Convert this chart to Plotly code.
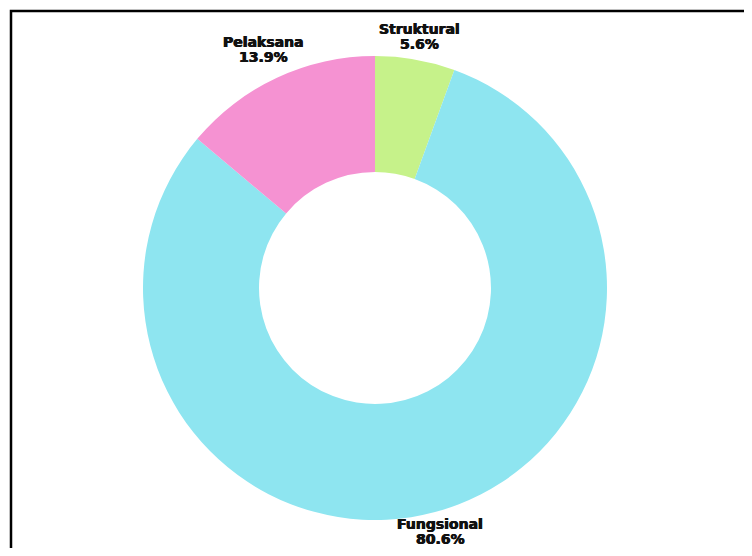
import math
import plotly.graph_objects as go

labels = ["Struktural", "Fungsional", "Pelaksana"]
values = [4, 58, 10]
colors = ["#C6F28A", "#8EE5F0", "#F592D2"]

W, H = 800, 540
L, R, T, B = 135, 201, 48, 28
pw, ph = W - L - R, H - T - B
radius = min(pw, ph) / 2

fig = go.Figure(go.Pie(
    labels=labels,
    values=values,
    hole=0.5,
    sort=False,
    direction="clockwise",
    rotation=0,
    marker=dict(colors=colors, line=dict(width=0)),
    textinfo="none",
    hoverinfo="label+percent",
    showlegend=False,
))

font = dict(family="DejaVu Sans", size=14, color="#111111", weight="bold",
            shadow="0.4px 0 0 #111111, -0.4px 0 0 #111111")
total = sum(values)
cum = 0
for lab, v in zip(labels, values):
    mid = (cum + v / 2) / total
    cum += v
    th = 2 * math.pi * mid
    s, c = math.sin(th), math.cos(th)
    pct = f"{100 * v / total:.1f}%"
    w = 8.7 * max(len(lab), len(pct))
    h = 30
    gap = 1 if c > 0 else -6
    dist = radius + gap + abs(s) * w / 2 + abs(c) * h / 2
    xp = 0.5 + dist * s / pw
    yp = 0.5 + dist * c / ph
    for txt, ys in ((lab, 7.5), (pct, -7.5)):
        fig.add_annotation(x=xp, y=yp, xref="paper", yref="paper", text=txt,
                           showarrow=False, xanchor="center", yanchor="middle",
                           yshift=ys, font=font)

fig.add_shape(type="rect", xref="paper", yref="paper",
              x0=(3 - L) / pw, x1=1 + (R + 60) / pw,
              y0=-(B + 60) / ph, y1=1 + (T - 3) / ph,
              line=dict(color="black", width=2.5))

fig.update_layout(
    width=W, height=H,
    margin=dict(l=L, r=R, t=T, b=B),
    paper_bgcolor="white",
    plot_bgcolor="white",
)

fig.write_html("out.html")
